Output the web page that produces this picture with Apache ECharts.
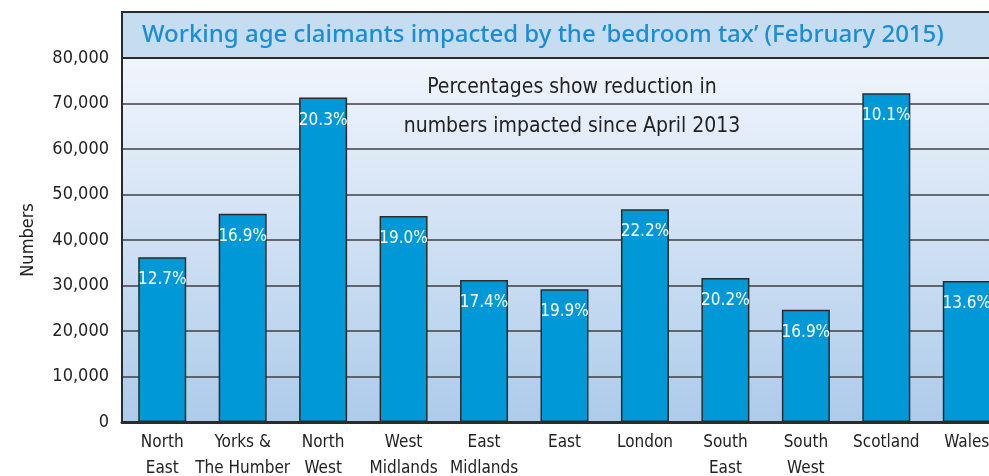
<!DOCTYPE html>
<html><head><meta charset="utf-8">
<script src="https://cdn.jsdelivr.net/npm/echarts@6/dist/echarts.min.js"></script>
<style>html,body{margin:0;padding:0;background:#fff;}#c{width:989px;height:476px;}</style>
</head><body><div id="c"></div>
<script>
var categories = ['North\nEast','Yorks &\nThe Humber','North\nWest','West\nMidlands','East\nMidlands','East','London','South\nEast','South\nWest','Scotland','Wales'];
var claimants = [36200, 45750, 71300, 45300, 31200, 29150, 46750, 31650, 24650, 72250, 31000];
var reductionLabels = ['12.7%','16.9%','20.3%','19.0%','17.4%','19.9%','22.2%','20.2%','16.9%','10.1%','13.6%'];
var yTicks = [0, 10000, 20000, 30000, 40000, 50000, 60000, 70000, 80000];

var COND = "'Liberation Sans Narrow','DejaVu Sans Condensed','Roboto Condensed','Arial Narrow',sans-serif";
var chart = echarts.init(document.getElementById('c'), null, {renderer:'canvas'});
chart.setOption({
  animation:false,
  backgroundColor:'#fff',
  graphic:[
    {type:'rect', shape:{x:122,y:12,width:900,height:46}, style:{fill:'#c6dcf1', stroke:'#2b2b2b', lineWidth:2}, z:10},
    {type:'text', x:142, y:35, style:{text:"Working age claimants impacted by the \u2018bedroom tax\u2019 (February 2015)", fill:'#1a8dd3', font:"500 24px 'Noto Sans',sans-serif", textVerticalAlign:'middle'}, z:11},
    {type:'text', x:572, y:88, style:{text:'Percentages show reduction in', fill:'#222', font:"21px "+COND, textAlign:'center', textVerticalAlign:'middle'}, z:11},
    {type:'text', x:572, y:127, style:{text:'numbers impacted since April 2013', fill:'#222', font:"21px "+COND, textAlign:'center', textVerticalAlign:'middle'}, z:11},
    {type:'text', x:28, y:240, rotation:Math.PI/2, style:{text:'Numbers', fill:'#222', font:"18px "+COND, textAlign:'center', textVerticalAlign:'middle'}, z:11}
  ],
  grid:{left:122, top:58, width:885, height:364, show:true, borderWidth:0, outerBoundsMode:'none', containLabel:false,
    backgroundColor:new echarts.graphic.LinearGradient(0,0,0,1,[{offset:0,color:'#f1f5fc'},{offset:1,color:'#adcbea'}])},
  xAxis:{type:'category', data:categories,
    axisLine:{show:true, lineStyle:{color:'#2b2b2b', width:3}},
    axisTick:{show:false},
    axisLabel:{color:'#222', fontSize:17, fontFamily:COND, lineHeight:26, margin:8, interval:0}},
  yAxis:{type:'value', min:0, max:80000, interval:10000,
    axisLine:{show:true, lineStyle:{color:'#2b2b2b', width:2}},
    axisTick:{show:false},
    splitLine:{show:true, lineStyle:{color:'#3f3f3f', width:1.5}},
    axisLabel:{color:'#222', fontSize:18, fontFamily:COND, margin:13,
      formatter:function(v){ return yTicks.indexOf(v)>=0 ? v.toLocaleString('en-GB') : ''; }}},
  series:[{type:'bar', data:claimants, barWidth:48,
    itemStyle:{color:'#0098d6', borderColor:'#2b2b2b', borderWidth:1.5},
    label:{show:true, position:'insideTop', distance:14, color:'#fff', fontSize:17, fontFamily:COND,
      formatter:function(p){ return reductionLabels[p.dataIndex]; }}}]
});
</script></body></html>
